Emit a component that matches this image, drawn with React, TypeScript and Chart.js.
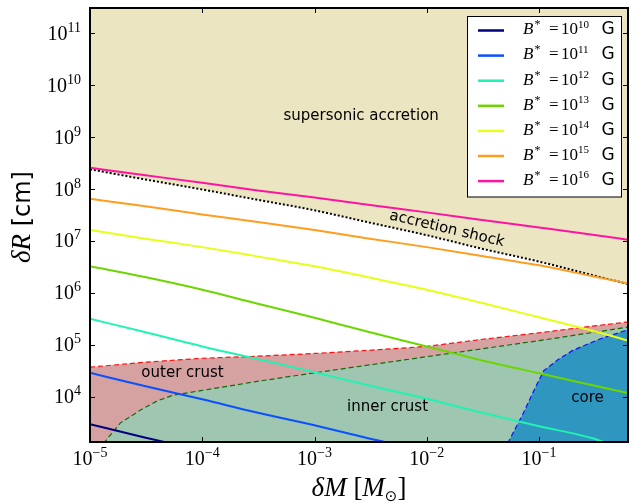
import React, { useEffect, useRef } from 'react';
import { Chart, registerables } from 'chart.js';

Chart.register(...registerables);

// ---- axis ranges ----
const xMin = 1e-5;
const xMax = 0.62;
const yMin = 1.34e3;
const yMax = 3.07e11;

const xTickExponents = [-5, -4, -3, -2, -1];
const yTickExponents = [4, 5, 6, 7, 8, 9, 10, 11];

// ---- shared mass grid (solar masses) ----
const massGrid = [1e-5, 3e-5, 1e-4, 3e-4, 1e-3, 3e-3, 1e-2, 3e-2, 1e-1, 3e-1, 0.62];

// ---- field-strength curves (delta R in cm) ----
const fieldExponents = [10, 11, 12, 13, 14, 15, 16];
const rB10 = [2.95e3, 1.66e3, 9.1e2];
const rB11 = [2.88e4, 1.62e4, 8.9e3, 5.0e3, 2.82e3, 1.58e3, 8.9e2];
const rB12 = [3.16e5, 1.78e5, 9.3e4, 5.4e4, 2.95e4, 1.66e4, 9.1e3, 5.0e3, 2.69e3, 1.58e3, 8.9e2];
const rB13 = [3.24e6, 2.04e6, 1.15e6, 6.3e5, 3.31e5, 1.78e5, 9.3e4, 5.1e4, 2.82e4, 1.66e4, 1.17e4];
const rB14 = [1.62e7, 1.12e7, 7.6e6, 5.1e6, 3.24e6, 2.0e6, 1.15e6, 6.5e5, 3.39e5, 1.86e5, 1.2e5];
const rB15 = [6.5e7, 4.7e7, 3.24e7, 2.34e7, 1.62e7, 1.12e7, 7.6e6, 5.2e6, 3.39e6, 2.09e6, 1.51e6];
const rB16 = [2.57e8, 1.86e8, 1.32e8, 9.5e7, 6.9e7, 5.0e7, 3.55e7, 2.57e7, 1.82e7, 1.32e7, 1.05e7];
const fieldSeries = [rB10, rB11, rB12, rB13, rB14, rB15, rB16];
const fieldColors = ['#00007f', '#0a50ff', '#22f2b2', '#6cd600', '#e6ff18', '#ff9d1f', '#ff14a0'];

// ---- region boundaries ----
const shockR = [2.4e8, 1.55e8, 9.8e7, 6.3e7, 3.89e7, 2.29e7, 1.29e7, 7.2e6, 4.0e6, 2.19e6, 1.48e6];
const outerCrustR = [3.7e4, 4.6e4, 5.5e4, 6.0e4, 6.8e4, 7.8e4, 9.3e4, 1.26e5, 1.7e5, 2.29e5, 2.75e5];

const innerCrustM = [1.32e-5, 1.86e-5, 2.8e-5, 3.98e-5, 5.5e-5, 1e-4, 3e-4, 1e-3, 1e-2, 1e-1, 0.62];
const innerCrustR = [1.26e3, 3.1e3, 5.5e3, 8.3e3, 1.07e4, 1.32e4, 1.95e4, 2.88e4, 5.9e4, 1.2e5, 2.19e5];

const coreM = [0.0525, 0.0724, 0.0891, 0.11, 0.148, 0.2, 0.347, 0.62];
const coreR = [1.26e3, 4.8e3, 1.26e4, 3.16e4, 5.2e4, 7.8e4, 1.29e5, 1.95e5];

// ---- region annotations (data coordinates) ----
const regionTexts = ['supersonic accretion', 'outer crust', 'inner crust', 'core', 'accretion shock'];
const regionTextM = [2.6e-3, 6.67e-5, 4.47e-3, 0.27, 1.51e-2];
const regionTextR = [2.5e9, 2.87e4, 6.2e3, 9.4e3, 1.7e7];
const regionTextAngle = [0, 0, 0, 0, 13.3];

const SERIF = '"Liberation Serif", "DejaVu Serif", serif';
const SANS = '"DejaVu Sans", sans-serif';

type Run = { t: string; font: string; dy?: number; dx?: number };

function runsWidth(ctx: CanvasRenderingContext2D, runs: Run[]) {
  let w = 0;
  for (const r of runs) {
    ctx.font = r.font;
    w += ctx.measureText(r.t).width + (r.dx || 0);
  }
  return w;
}

function drawRuns(ctx: CanvasRenderingContext2D, runs: Run[], x: number, y: number, align: 'left' | 'center' | 'right') {
  const total = runsWidth(ctx, runs);
  let cx = align === 'left' ? x : align === 'center' ? x - total / 2 : x - total;
  for (const r of runs) {
    ctx.font = r.font;
    cx += r.dx || 0;
    ctx.fillText(r.t, cx, y + (r.dy || 0));
    cx += ctx.measureText(r.t).width;
  }
}

const pts = (xs: number[], ys: number[]) => ys.map((y, i) => ({ x: xs[i], y }));

const decorPlugin = {
  id: 'decor',
  afterDraw(chart: any) {
    const ctx: CanvasRenderingContext2D = chart.ctx;
    const { left, right, top, bottom } = chart.chartArea;
    const xs = chart.scales.x;
    const ys = chart.scales.y;
    ctx.save();

    // region annotations
    ctx.fillStyle = '#000';
    ctx.textAlign = 'center';
    ctx.textBaseline = 'middle';
    ctx.font = '15px ' + SANS;
    regionTexts.forEach((t, i) => {
      const px = xs.getPixelForValue(regionTextM[i]);
      const py = ys.getPixelForValue(regionTextR[i]);
      ctx.save();
      ctx.translate(px, py);
      ctx.rotate((regionTextAngle[i] * Math.PI) / 180);
      ctx.fillText(t, 0, 0);
      ctx.restore();
    });

    // frame
    ctx.strokeStyle = '#000';
    ctx.lineWidth = 2;
    ctx.strokeRect(left, top, right - left, bottom - top);

    // ticks
    ctx.lineWidth = 1;
    ctx.beginPath();
    xTickExponents.forEach((e) => {
      const px = Math.round(xs.getPixelForValue(Math.pow(10, e))) + 0.5;
      ctx.moveTo(px, bottom);
      ctx.lineTo(px, bottom - 5);
      ctx.moveTo(px, top);
      ctx.lineTo(px, top + 5);
    });
    yTickExponents.forEach((e) => {
      const py = Math.round(ys.getPixelForValue(Math.pow(10, e))) + 0.5;
      ctx.moveTo(left, py);
      ctx.lineTo(left + 5, py);
      ctx.moveTo(right, py);
      ctx.lineTo(right - 5, py);
    });
    ctx.stroke();

    // tick labels
    ctx.textBaseline = 'alphabetic';
    ctx.textAlign = 'left';
    ctx.fillStyle = '#000';
    xTickExponents.forEach((e) => {
      const px = xs.getPixelForValue(Math.pow(10, e));
      drawRuns(
        ctx,
        [
          { t: '10', font: '20px ' + SERIF },
          { t: '\u2212' + Math.abs(e), font: '14px ' + SERIF, dy: -8 },
        ],
        px,
        465,
        'center'
      );
    });
    yTickExponents.forEach((e) => {
      const py = ys.getPixelForValue(Math.pow(10, e));
      drawRuns(
        ctx,
        [
          { t: '10', font: '20px ' + SERIF },
          { t: String(e), font: '14px ' + SERIF, dy: -8 },
        ],
        left - 9,
        py + 6.5,
        'right'
      );
    });

    // axis titles
    drawRuns(
      ctx,
      [
        { t: '\u03b4M', font: 'italic 27px ' + SERIF },
        { t: ' [', font: '27px ' + SERIF },
        { t: 'M', font: 'italic 27px ' + SERIF },
        { t: '\u2299', font: '15px ' + SANS, dy: 5 },
        { t: ']', font: '27px ' + SERIF },
      ],
      (left + right) / 2,
      496,
      'center'
    );
    ctx.save();
    ctx.translate(30, (top + bottom) / 2 - 8);
    ctx.rotate(-Math.PI / 2);
    drawRuns(
      ctx,
      [
        { t: '\u03b4R', font: 'italic 27px ' + SERIF },
        { t: ' [cm]', font: '24px ' + SANS },
      ],
      0,
      0,
      'center'
    );
    ctx.restore();

    // legend
    const lx = 467.5;
    const ly = 16.5;
    const lw = 154;
    const lh = 180.5;
    ctx.fillStyle = '#fff';
    ctx.fillRect(lx, ly, lw, lh);
    ctx.strokeStyle = '#000';
    ctx.lineWidth = 1;
    ctx.strokeRect(lx, ly, lw, lh);
    fieldExponents.forEach((e, i) => {
      const ry = ly + 14 + i * 25.1;
      ctx.strokeStyle = fieldColors[i];
      ctx.lineWidth = 2.5;
      ctx.beginPath();
      ctx.moveTo(lx + 10.5, ry);
      ctx.lineTo(lx + 36.5, ry);
      ctx.stroke();
      ctx.fillStyle = '#000';
      const by = ry + 3.8;
      ctx.font = 'italic 17px ' + SERIF;
      ctx.fillText('B', lx + 55.5, by);
      ctx.font = '12px ' + SERIF;
      ctx.fillText('*', lx + 67, by - 6);
      ctx.font = '17px ' + SERIF;
      ctx.fillText('=', lx + 81.5, by);
      ctx.fillText('10', lx + 93.5, by);
      ctx.font = '11px ' + SERIF;
      ctx.fillText(String(e), lx + 110.5, by - 6.5);
      ctx.font = '17px ' + SANS;
      ctx.fillText('G', lx + 134, by);
    });

    ctx.restore();
  },
};

export default function App() {
  const ref = useRef<HTMLCanvasElement>(null);
  useEffect(() => {
    document.body.style.margin = '0';
    const canvas = ref.current!;
    const datasets: any[] = [];

    datasets.push({
      label: 'supersonic',
      data: pts(massGrid, shockR),
      borderColor: '#000',
      borderWidth: 2,
      borderDash: [2, 2],
      backgroundColor: '#ebe5c1',
      fill: 'end',
      cubicInterpolationMode: 'monotone',
      order: 20,
      clip: 0,
    });
    datasets.push({
      label: 'outer crust',
      data: pts(massGrid, outerCrustR),
      borderColor: '#ff1010',
      borderWidth: 1.2,
      borderDash: [5, 3],
      backgroundColor: '#d5a1a1',
      fill: 'start',
      order: 19,
      clip: 0,
    });
    datasets.push({
      label: 'inner crust',
      data: pts(innerCrustM, innerCrustR),
      borderColor: '#0c6e0c',
      borderWidth: 1.2,
      borderDash: [5, 3],
      backgroundColor: '#9fc6b1',
      fill: 'start',
      order: 18,
      clip: 0,
    });
    datasets.push({
      label: 'core',
      data: pts(coreM, coreR),
      borderColor: '#1010ff',
      borderWidth: 1.2,
      borderDash: [5, 3],
      backgroundColor: '#2f96c0',
      fill: 'start',
      order: 17,
      clip: 0,
    });
    fieldSeries.forEach((ser, i) => {
      datasets.push({
        label: 'B' + fieldExponents[i],
        data: pts(massGrid, ser),
        borderColor: fieldColors[i],
        borderWidth: 2,
        fill: false,
        cubicInterpolationMode: 'monotone',
        order: 10 - i,
        clip: 0,
      });
    });

    const chart = new Chart(canvas, {
      type: 'line',
      data: { datasets },
      options: {
        animation: false,
        responsive: false,
        devicePixelRatio: 1,
        layout: { padding: { left: 90, right: 1, top: 8, bottom: 61 } },
        scales: {
          x: { type: 'logarithmic', min: xMin, max: xMax, bounds: 'data', display: false },
          y: { type: 'logarithmic', min: yMin, max: yMax, bounds: 'data', display: false },
        },
        plugins: { legend: { display: false }, tooltip: { enabled: false } },
        elements: { point: { radius: 0 }, line: { tension: 0 } },
      } as any,
      plugins: [decorPlugin],
    });
    return () => chart.destroy();
  }, []);
  return <canvas ref={ref} width={629} height={503} style={{ display: 'block', width: 629, height: 503 }} />;
}
